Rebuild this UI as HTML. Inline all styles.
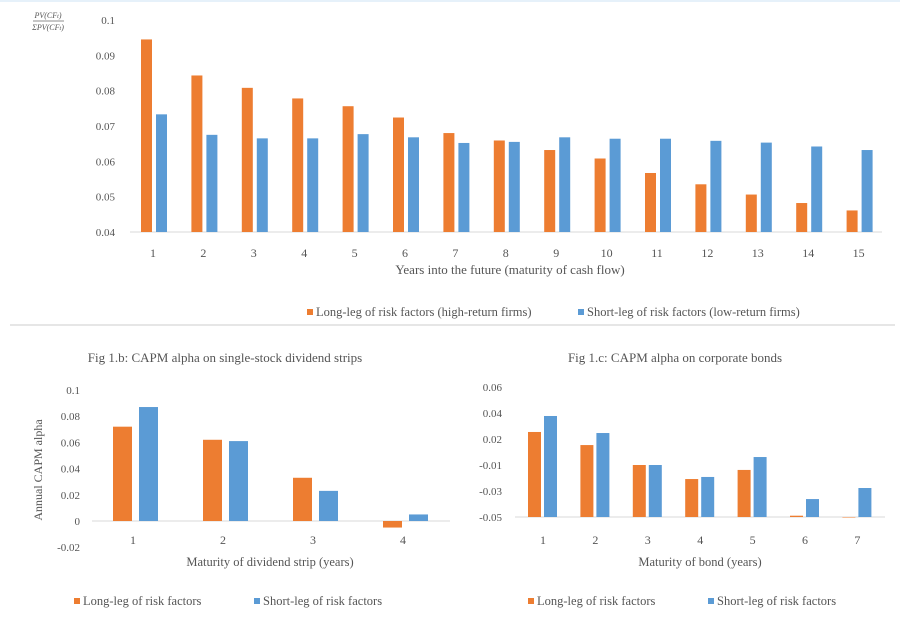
<!DOCTYPE html>
<html><head><meta charset="utf-8"><style>
body{margin:0;background:#fff;}
svg{display:block;font-family:"Liberation Serif",serif;}
text{fill:#555;}
</style></head><body>
<svg id="c" width="900" height="624" viewBox="0 0 900 624">
<rect x="0" y="0" width="900" height="624" fill="#fff"/>
<line x1="0" y1="1" x2="900" y2="1" stroke="#e6f1fa" stroke-width="2"/>
<line x1="10" y1="325" x2="895" y2="325" stroke="#ddd" stroke-width="1.5"/>
<g>
<text x="48" y="18" font-size="8" font-style="italic" text-anchor="middle">PV(CF<tspan font-size="6">t</tspan>)</text>
<line x1="33" y1="21" x2="64" y2="21" stroke="#666" stroke-width="0.8"/>
<text x="48" y="30" font-size="8" font-style="italic" text-anchor="middle">ΣPV(CF<tspan font-size="6">t</tspan>)</text>
</g>
<text x="510" y="274" font-size="13" text-anchor="middle">Years into the future (maturity of cash flow)</text>
<g>
<rect x="307" y="309" width="6" height="6" fill="#ED7D31"/>
<text x="316" y="316" font-size="12.5">Long-leg of risk factors (high-return firms)</text>
<rect x="578" y="309" width="6" height="6" fill="#5B9BD5"/>
<text x="587" y="316" font-size="12.5">Short-leg of risk factors (low-return firms)</text>
</g>
<text x="225" y="362" font-size="13" text-anchor="middle">Fig 1.b: CAPM alpha on single-stock dividend strips</text>
<text x="675" y="362" font-size="13" text-anchor="middle">Fig 1.c: CAPM alpha on corporate bonds</text>
<text transform="translate(42,470) rotate(-90)" font-size="12" text-anchor="middle">Annual CAPM alpha</text>
<text x="270" y="566" font-size="12.5" text-anchor="middle">Maturity of dividend strip (years)</text>
<text x="700" y="566" font-size="12.5" text-anchor="middle">Maturity of bond (years)</text>
<g>
<rect x="74" y="598" width="6" height="6" fill="#ED7D31"/>
<text x="83" y="605" font-size="12.5">Long-leg of risk factors</text>
<rect x="254" y="598" width="6" height="6" fill="#5B9BD5"/>
<text x="263" y="605" font-size="12.5">Short-leg of risk factors</text>
</g>
<g>
<rect x="528" y="598" width="6" height="6" fill="#ED7D31"/>
<text x="537" y="605" font-size="12.5">Long-leg of risk factors</text>
<rect x="708" y="598" width="6" height="6" fill="#5B9BD5"/>
<text x="717" y="605" font-size="12.5">Short-leg of risk factors</text>
</g>
</svg>
<script>
const mainCats=["1","2","3","4","5","6","7","8","9","10","11","12","13","14","15"];
const mainLong=[0.0945,0.0843,0.0808,0.0778,0.0756,0.0724,0.068,0.0659,0.0632,0.0608,0.0567,0.0535,0.0506,0.0482,0.0461];
const mainShort=[0.0733,0.0675,0.0665,0.0665,0.0677,0.0668,0.0652,0.0655,0.0668,0.0664,0.0664,0.0658,0.0653,0.0642,0.0632];
const mainTicks=[0.04,0.05,0.06,0.07,0.08,0.09,0.1];
const mainTickLabels=["0.04","0.05","0.06","0.07","0.08","0.09","0.1"];

const bCats=["1","2","3","4"];
const bLong=[0.072,0.062,0.033,-0.005];
const bShort=[0.087,0.061,0.023,0.005];
const bTicks=[-0.02,0,0.02,0.04,0.06,0.08,0.1];
const bTickLabels=["-0.02","0","0.02","0.04","0.06","0.08","0.1"];

const cCats=["1","2","3","4","5","6","7"];
const cLong=[0.0254,0.013,-0.01,-0.0208,-0.0138,-0.049,-0.05];
const cShort=[0.0377,0.0246,-0.01,-0.0192,-0.0008,-0.0362,-0.0277];
const cTicks=[-0.05,-0.03,-0.01,0.02,0.04,0.06];
const cTickLabels=["-0.05","-0.03","-0.01","0.02","0.04","0.06"];

const svg=document.getElementById('c');
const NS='http://www.w3.org/2000/svg';
function mk(tag,attrs,txt){const e=document.createElementNS(NS,tag);for(const k in attrs)e.setAttribute(k,attrs[k]);if(txt!==undefined)e.textContent=txt;svg.appendChild(e);return e;}

function drawChart(o){
  // axis
  let ax=mk('line',{x1:o.x0,y1:o.y(o.base),x2:o.x1,y2:o.y(o.base),stroke:'#d9d9d9','stroke-width':1});
  
  
  o.ticks.forEach((t,i)=>{
    let tx=mk('text',{x:o.tickX,y:o.y(t)+4,'font-size':11,'text-anchor':'end'},o.tickLabels[i]);
    
    
  });
  o.cats.forEach((c,i)=>{
    const cx=o.cx(i);
    let lb=mk('text',{x:cx,y:o.labY,'font-size':12,'text-anchor':'middle'},c);
    
    
    [[o.long,'#ED7D31',o.offL,'long'],[o.short,'#5B9BD5',o.offS,'short']].forEach(s=>{
      const v=s[0][i];const y0=o.y(o.base),y1=o.y(v);
      const top=Math.min(y0,y1),h=Math.abs(y0-y1);
      let r=mk('rect',{x:cx+s[2],y:top,width:o.bw,height:Math.max(h,0.5),fill:s[1]});
      
      
    });
  });
}
// main
drawChart({id:'main',cats:mainCats,long:mainLong,short:mainShort,ticks:mainTicks,tickLabels:mainTickLabels,
  base:0.04,y:v=>232-(v-0.04)/0.06*212,cx:i=>153+i*50.4,x0:130,x1:882,tickX:115,labY:257,bw:11,offL:-12,offS:3});
// b
drawChart({id:'chart-b',cats:bCats,long:bLong,short:bShort,ticks:bTicks,tickLabels:bTickLabels,
  base:0,y:v=>521-v/0.1*131,cx:i=>133+i*90,x0:92,x1:450,tickX:80,labY:544,bw:19,offL:-20,offS:6});
// c  (piecewise axis with evenly spaced ticks)
const cPos=[517,491,465,439,413,387];
function cY(v){
  if(v<=cTicks[0])return cPos[0];
  for(let i=0;i<cTicks.length-1;i++){if(v<=cTicks[i+1]){const f=(v-cTicks[i])/(cTicks[i+1]-cTicks[i]);return cPos[i]+f*(cPos[i+1]-cPos[i]);}}
  return cPos[cPos.length-1];
}
drawChart({id:'chart-c',cats:cCats,long:cLong,short:cShort,ticks:cTicks,tickLabels:cTickLabels,
  base:-0.05,y:cY,cx:i=>543+i*52.4,x0:515,x1:885,tickX:502,labY:544,bw:13,offL:-15,offS:1});
</script>
</body></html>
